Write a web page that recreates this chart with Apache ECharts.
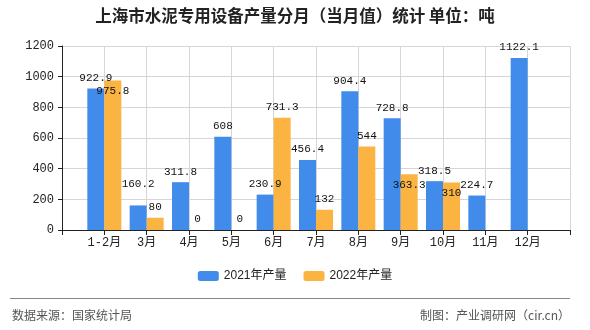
<!DOCTYPE html>
<html>
<head>
<meta charset="utf-8">
<script src="https://cdn.jsdelivr.net/npm/echarts@6/dist/echarts.min.js"></script>
<style>
html,body{margin:0;padding:0;background:#fff;}
#chart{width:590px;height:330px;}
</style>
</head>
<body>
<div id="chart"></div>
<script>
// ---- data ----
const months = ['1-2月','3月','4月','5月','6月','7月','8月','9月','10月','11月','12月'];
const output2021 = [922.9, 160.2, 311.8, 608, 230.9, 456.4, 904.4, 728.8, 318.5, 224.7, 1122.1];
const output2022 = [975.8, 80, 0, 0, 731.3, 132, 544, 363.3, 310, null, null];
const seriesNames = ['2021年产量', '2022年产量'];
const yTicks = [0, 200, 400, 600, 800, 1000, 1200];

// ---- style constants ----
const BLUE = '#418bea', ORANGE = '#fbb442';
const BAR_W = 17;
const LABEL_FONT_SIZE = 11;
const LABEL_FAMILY = "'Liberation Mono', 'Noto Sans CJK SC', monospace";
const CJK = "'Liberation Sans', 'Noto Sans CJK SC', sans-serif";
const LABEL_DIST = 5;
const LABEL_H = 13;

// padded categories (empty slot at each end)
const cats = [''].concat(months, ['']);
const pad = arr => ['-'].concat(arr.map(v => v == null ? '-' : v), ['-']);
const vals = [output2021, output2022];

const chart = echarts.init(document.getElementById('chart'), null, {renderer: 'canvas'});
let shifts = [{}, {}];

function makeSeries(idx, color) {
  return {
    name: seriesNames[idx],
    type: 'bar',
    data: pad(vals[idx]),
    barWidth: BAR_W,
    barGap: '0%',
    itemStyle: {color: color},
    label: {
      show: true,
      position: 'top',
      distance: LABEL_DIST,
      color: '#111',
      fontSize: LABEL_FONT_SIZE,
      fontFamily: LABEL_FAMILY
    },
    labelLayout: function (p) {
      const d = shifts[idx][p.dataIndex];
      return d ? {dy: d} : {};
    }
  };
}

const option = {
  animation: false,
  backgroundColor: '#fff',
  title: {
    text: '上海市水泥专用设备产量分月（当月值）统计 单位：吨',
    left: 'center',
    top: 7,
    padding: 0,
    textStyle: {fontSize: 16.5, fontWeight: 'bold', color: '#222', fontFamily: "'Noto Sans CJK SC', sans-serif"}
  },
  legend: {
    data: seriesNames,
    left: 'center',
    top: 270,
    padding: 0,
    itemWidth: 21,
    itemHeight: 10,
    itemGap: 17,
    textStyle: {fontSize: 12, color: '#222', fontFamily: CJK}
  },
  grid: {left: 62, right: 20, top: 46, bottom: 100, containLabel: false},
  xAxis: {
    type: 'category',
    data: cats,
    boundaryGap: false,
    axisLine: {lineStyle: {color: '#222', width: 1}},
    axisTick: {show: true, length: 5, lineStyle: {color: '#222'}},
    axisLabel: {interval: 0, margin: 7, color: '#222', fontSize: 12, fontFamily: LABEL_FAMILY},
    splitLine: {show: true, lineStyle: {color: '#d6d6d6', width: 1}}
  },
  yAxis: {
    type: 'value',
    min: yTicks[0],
    max: yTicks[yTicks.length - 1],
    interval: yTicks[1] - yTicks[0],
    axisLine: {show: true, lineStyle: {color: '#222', width: 1}},
    axisTick: {show: true, length: 4, lineStyle: {color: '#222'}},
    axisLabel: {margin: 8, color: '#222', fontSize: 12, fontFamily: LABEL_FAMILY, formatter: v => String(v)},
    splitLine: {show: true, lineStyle: {color: '#d6d6d6', width: 1}}
  },
  graphic: [
    {type: 'line', shape: {x1: 10, y1: 298.5, x2: 570, y2: 298.5}, style: {stroke: '#888', lineWidth: 1}},
    {type: 'text', left: 12, top: 309, style: {text: '数据来源：国家统计局', fill: '#555', font: "12px 'Noto Sans CJK SC', sans-serif"}},
    {type: 'text', right: 20, top: 309, style: {text: '制图：产业调研网（cir.cn）', fill: '#555', font: "12px 'Noto Sans CJK SC', sans-serif"}}
  ],
  series: [makeSeries(0, BLUE), makeSeries(1, ORANGE)]
};

chart.setOption(option);

// ---- resolve overlapping value labels ----
const ctx = document.createElement('canvas').getContext('2d');
ctx.font = LABEL_FONT_SIZE + 'px ' + LABEL_FAMILY;
const baseY = chart.convertToPixel({gridIndex: 0}, [0, 0])[1];
function rectOf(s, i) {
  const v = vals[s][i];
  if (v == null) return null;
  const p = chart.convertToPixel({gridIndex: 0}, [i + 1, v]);
  const cx = p[0] + (s === 0 ? -BAR_W / 2 : BAR_W / 2);
  const w = ctx.measureText(String(v)).width;
  const cy = p[1] - LABEL_DIST - LABEL_H / 2;
  return {x1: cx - w / 2, x2: cx + w / 2, y1: cy - LABEL_H / 2, y2: cy + LABEL_H / 2, cy: cy};
}
function overlap(a, b) {
  return a && b && a.x1 < b.x2 && b.x1 < a.x2 && a.y1 < b.y2 + 1 && b.y1 < a.y2 + 1;
}
const blueRects = months.map((m, i) => rectOf(0, i));
const orangeRects = months.map((m, i) => rectOf(1, i));
orangeRects.forEach((o, j) => {
  if (!o) return;
  for (let k = 0; k < blueRects.length; k++) {
    const b = blueRects[k];
    if (overlap(o, b)) {
      if (o.y2 + 21 <= baseY) {
        shifts[1][j + 1] = 21;
      } else {
        shifts[0][k + 1] = (o.cy - 23) - b.cy;
      }
      break;
    }
  }
});
chart.setOption({series: [{labelLayout: option.series[0].labelLayout}, {labelLayout: option.series[1].labelLayout}]});
</script>
</body>
</html>
